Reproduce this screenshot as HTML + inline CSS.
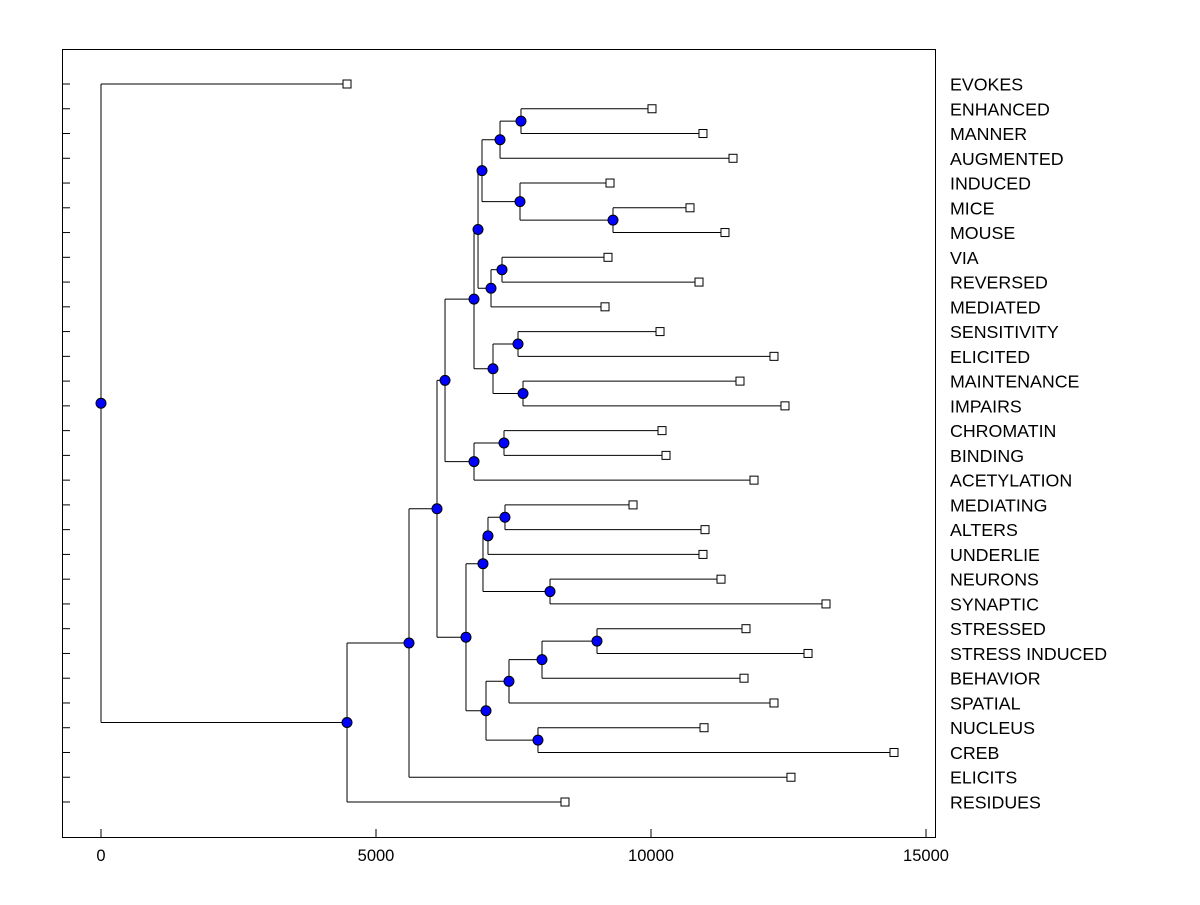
<!DOCTYPE html>
<html><head><meta charset="utf-8"><style>
body{margin:0;background:#fff;}
svg text{font-family:"Liberation Sans",Arial,sans-serif;}
</style></head><body>
<svg id="chart" width="1200" height="900" xmlns="http://www.w3.org/2000/svg">
<rect x="0" y="0" width="1200" height="900" fill="#fff"/>
<rect x="62.5" y="49.5" width="873" height="788" fill="none" stroke="#000"/>
<g id="marks"></g>
</svg>
<script>
const leafNames=["EVOKES","ENHANCED","MANNER","AUGMENTED","INDUCED","MICE","MOUSE","VIA","REVERSED","MEDIATED","SENSITIVITY","ELICITED","MAINTENANCE","IMPAIRS","CHROMATIN","BINDING","ACETYLATION","MEDIATING","ALTERS","UNDERLIE","NEURONS","SYNAPTIC","STRESSED","STRESS INDUCED","BEHAVIOR","SPATIAL","NUCLEUS","CREB","ELICITS","RESIDUES"];
const leafValues=[4473,10018,10945,11491,9255,10709,11345,9218,10873,9164,10164,12236,11618,12436,10200,10273,11873,9673,10982,10945,11273,13182,11727,12855,11691,12236,10964,14418,12545,8436];
const mergeLeft=[1,30,5,4,31,7,35,34,10,12,38,37,14,42,41,17,45,20,46,22,49,50,26,51,48,44,55,56,0];
const mergeRight=[2,3,6,32,33,8,9,36,11,13,39,40,15,16,43,18,19,21,47,23,24,25,27,52,53,54,28,29,57];
const mergeHeight=[7636,7255,9309,7618,6927,7291,7091,6855,7582,7673,7127,6782,7327,6782,6255,7345,7036,8164,6945,9018,8018,7418,7945,7000,6636,6109,5600,4473,0];
const xTicks=[0,5000,10000,15000];

const NS="http://www.w3.org/2000/svg";
const g=document.getElementById('marks');
const X=v=>101+v*0.055;
const Y=i=>84+i*(802-84)/(leafNames.length-1);
function mk(t,a){const e=document.createElementNS(NS,t);for(const k in a)e.setAttribute(k,a[k]);g.appendChild(e);return e;}
const n=leafNames.length;
const ny=[],nh=[];
for(let i=0;i<n;i++){ny[i]=Y(i);nh[i]=leafValues[i];}
for(let m=0;m<mergeLeft.length;m++){
  const a=mergeLeft[m],b=mergeRight[m],h=mergeHeight[m],id=n+m;
  ny[id]=(ny[a]+ny[b])/2;nh[id]=h;
  const x=X(h);
  let l=mk('line',{x1:x,y1:ny[a],x2:x,y2:ny[b],stroke:'#000','stroke-width':1});
  
  
  [a,b].forEach(c=>{
    let hl=mk('line',{x1:x,y1:ny[c],x2:X(nh[c]),y2:ny[c],stroke:'#000','stroke-width':1});
    
    
  });
}
for(let m=0;m<mergeLeft.length;m++){
  const id=n+m;
  let c=mk('circle',{cx:X(nh[id]),cy:ny[id],r:5,fill:'#0000ff',stroke:'#000','stroke-width':1});
  
  
}
for(let i=0;i<n;i++){
  let s=mk('rect',{x:X(leafValues[i])-4,y:Y(i)-4,width:8,height:8,fill:'#fff',stroke:'#000','stroke-width':1});
  
  
  let t=mk('line',{x1:62,y1:Y(i),x2:70,y2:Y(i),stroke:'#000'});
  
  
  let tx=mk('text',{x:950,y:Y(i)+6.5,'font-size':17.8,fill:'#000'});
  tx.textContent=leafNames[i];
  
  
}
xTicks.forEach(v=>{
  let t=mk('line',{x1:X(v),y1:837,x2:X(v),y2:829,stroke:'#000'});
  
  
  let tx=mk('text',{x:X(v),y:861,'font-size':16.5,'text-anchor':'middle',fill:'#000'});
  tx.textContent=String(v);
  
  
});
</script>
</body></html>
